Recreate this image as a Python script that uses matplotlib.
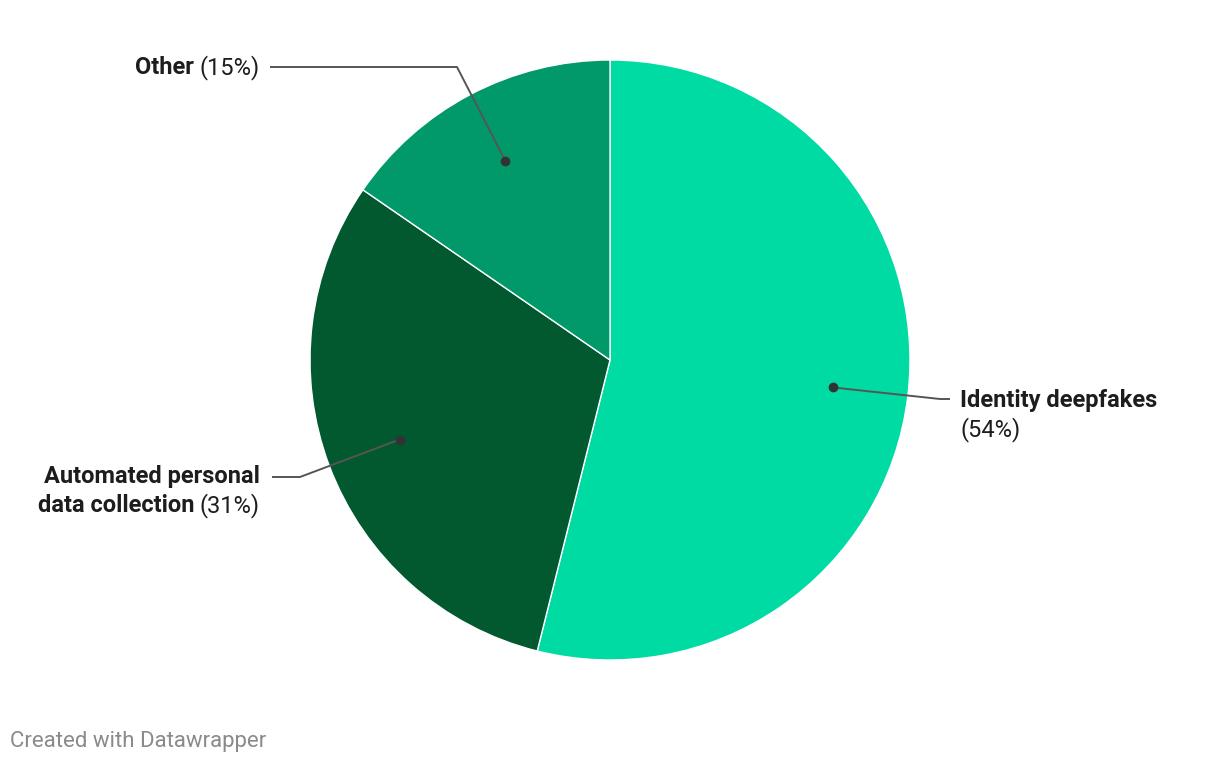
import numpy as np
import matplotlib
matplotlib.use("Agg")
import matplotlib.pyplot as plt

# data (shares; labels show rounded values)
labels_bold = ["Identity deepfakes", "Automated personal\ndata collection", "Other"]
values = [53.9, 30.7, 15.4]
colors = ["#00dba4", "#02592f", "#01996a"]

W, H = 1220, 766
plt.rcParams['font.family'] = ['Roboto', 'DejaVu Sans']

fig = plt.figure(figsize=(W / 100, H / 100), dpi=100)
ax = fig.add_axes([0, 0, 1, 1])

cx, cy, R = 610, H - 360, 300
wedges, _ = ax.pie(values, colors=colors, startangle=90, counterclock=False,
                   center=(cx, cy), radius=R, frame=True,
                   wedgeprops=dict(edgecolor='white', linewidth=1))
ax.set_xlim(0, W)
ax.set_ylim(0, H)
ax.set_aspect('equal')
ax.axis('off')

fig.canvas.draw()
renderer = fig.canvas.get_renderer()

FS = 17
txt_col = "#1d1d1d"
line_col = "#555555"


def text_width(s, weight):
    t = ax.text(0, 0, s, fontsize=FS, fontweight=weight)
    w = t.get_window_extent(renderer).width
    t.remove()
    return w


def dot_and_leader(w, path):
    ang = np.deg2rad((w.theta1 + w.theta2) / 2)
    dx, dy = cx + 0.75 * R * np.cos(ang), cy + 0.75 * R * np.sin(ang)
    xs = [dx] + [p[0] for p in path]
    ys = [dy] + [H - p[1] for p in path]
    ax.plot(xs, ys, color=line_col, lw=1.4, solid_capstyle='butt', zorder=3)
    ax.plot(dx, dy, 'o', color="#333333", ms=6, zorder=4)


def right_line(x, y, bold, reg):
    # right-aligned line: bold part followed by regular part
    y = H - y
    if reg:
        ax.text(x, y, reg, fontsize=FS, ha='right', va='center', color=txt_col)
        x -= text_width(reg, 'normal')
    ax.text(x, y, bold, fontsize=FS, fontweight='bold', ha='right', va='center', color=txt_col)


def pct(v):
    return "(%d%%)" % round(v)


# Identity deepfakes
dot_and_leader(wedges[0], [(940, 399), (950, 399)])
ax.text(960, H - 400, labels_bold[0], fontsize=FS, fontweight='bold',
        ha='left', va='center', color=txt_col)
ax.text(960, H - 430, pct(values[0]), fontsize=FS, ha='left', va='center', color=txt_col)

# Automated personal data collection
dot_and_leader(wedges[1], [(300, 477), (272, 477)])
l1, l2 = labels_bold[1].split("\n")
right_line(260, 477, l1, None)
right_line(260, 506, l2 + " ", pct(values[1]))

# Other
dot_and_leader(wedges[2], [(457, 67), (270, 67)])
right_line(260, 68, labels_bold[2] + " ", pct(values[2]))

ax.text(10, H - 742, "Created with Datawrapper", fontsize=16, color="#8a8a8a",
        ha='left', va='center')

fig.savefig("out.png", dpi=100)
